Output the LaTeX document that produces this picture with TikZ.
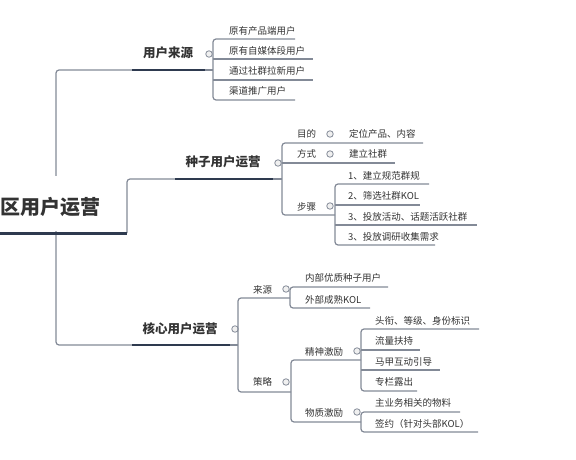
\documentclass[tikz,border=0pt]{standalone}
\usepackage{fontspec}
\setmainfont{Noto Sans CJK SC}
\definecolor{lineg}{HTML}{838A97}
\definecolor{thickc}{HTML}{2E3A4F}
\definecolor{txt}{HTML}{333333}
\begin{document}
\begin{tikzpicture}[x=1pt,y=-1pt,
  conn/.style={draw=lineg, line width=1.2pt, rounded corners=3pt},
  thickline/.style={draw=thickc, line width=2.6pt},
  leaf/.style={anchor=west, inner sep=0pt, text=txt, font=\fontsize{9.5}{11}\selectfont},
  branch/.style={inner sep=0pt, text=txt, font=\fontsize{12.5}{14}\selectfont\bfseries},
  rootn/.style={anchor=west, inner sep=0pt, text=txt, font=\fontsize{20}{22}\selectfont\bfseries},
  circ/.style={circle, draw=lineg, fill=gray!12, line width=0.8pt, minimum size=6.5pt, inner sep=0pt}]
\useasboundingbox (0,0) rectangle (576,460);

% ---------- trunk ----------
\coordinate (t1) at (132,70);
\coordinate (t3) at (132,345);
\draw[conn] (t1) -- (56,70) -- (56,345) -- (t3);
\draw[conn] (127,233) -- (127,179) -- (175,179);

% ---------- root ----------
\fill[white] (0,176) rectangle (126,231);
\node[rootn] (root) at (0,207) {区用户运营};
\draw[draw=thickc, line width=3pt] (0,233) -- (127,233);

% ---------- branch 1 ----------
\node[branch] (b1) at (168,53) {用户来源};
\draw[thickline] (t1) -- (205,70);
\draw[conn] (205,70) -- (213,70);
\node[circ] (c1) at (209,54) {};
\draw[conn] (295,39) -- (213,39) -- (213,100) -- (295,100);
\draw[conn] (213,59) -- (313,59);
\draw[conn] (213,80) -- (313,80);
\node[leaf] (l11) at (229,31) {原有产品端用户};
\node[leaf] (l12) at (229,51) {原有自媒体段用户};
\node[leaf] (l13) at (229,71) {通过社群拉新用户};
\node[leaf] (l14) at (229,91) {渠道推广用户};

% ---------- branch 2 ----------
\node[branch] (b2) at (223,162) {种子用户运营};
\draw[thickline] (175,179) -- (273,179);
\draw[conn] (273,179) -- (282,179);
\node[circ] (c2) at (278,163) {};
\draw[conn] (423,143) -- (282,143) -- (282,215) -- (335,215);
\draw[conn] (282,163) -- (395,163);
\node[leaf] (m1) at (297,134) {目的};
\node[circ] (cm1) at (330,134) {};
\node[leaf] (m1a) at (349,134) {定位产品、内容};
\node[leaf] (m2) at (297,154) {方式};
\node[circ] (cm2) at (330,154) {};
\node[leaf] (m2a) at (349,154) {建立社群};
\node[leaf] (m3) at (297,207) {步骤};
\node[circ] (cm3) at (330,206) {};
\draw[conn] (429,184) -- (335,184) -- (335,245) -- (435,245);
\draw[conn] (335,205) -- (420,205);
\draw[conn] (335,225) -- (477,225);
\node[leaf] (s1) at (348,176) {1、建立规范群规};
\node[leaf] (s2) at (348,196) {2、筛选社群KOL};
\node[leaf] (s3) at (348,217) {3、投放活动、话题活跃社群};
\node[leaf] (s4) at (348,237) {3、投放调研收集需求};

% ---------- branch 3 ----------
\node[branch] (b3) at (180,329) {核心用户运营};
\draw[thickline] (t3) -- (230,345);
\draw[conn] (230,345) -- (238,345);
\node[circ] (c3) at (235,329) {};
\draw[conn] (290,298) -- (238,298) -- (238,392) -- (291,392);
\node[leaf] (k1) at (253,290) {来源};
\node[circ] (ck1) at (286,289) {};
\draw[conn] (388,287) -- (290,287) -- (290,308) -- (370,308);
\node[leaf] (k1a) at (305,278) {内部优质种子用户};
\node[leaf] (k1b) at (305,300) {外部成熟KOL};
\node[leaf] (k2) at (253,382) {策略};
\node[circ] (ck2) at (286,382) {};
\draw[conn] (361,360) -- (291,360) -- (291,422) -- (361,422);
\node[leaf] (j1) at (305,352) {精神激励};
\node[circ] (cj1) at (357,351) {};
\draw[conn] (479,329) -- (361,329) -- (361,391) -- (417,391);
\draw[conn] (361,350) -- (420,350);
\draw[conn] (361,370) -- (440,370);
\node[leaf] (j1a) at (375,321) {头衔、等级、身份标识};
\node[leaf] (j1b) at (375,341) {流量扶持};
\node[leaf] (j1c) at (375,362) {马甲互动引导};
\node[leaf] (j1d) at (375,382) {专栏露出};
\node[leaf] (j2) at (305,413) {物质激励};
\node[circ] (cj2) at (357,412) {};
\draw[conn] (460,412) -- (361,412) -- (361,432) -- (478,432);
\node[leaf] (j2a) at (375,403) {主业务相关的物料};
\node[leaf] (j2b) at (375,424) {签约（针对头部KOL）};
\end{tikzpicture}
\end{document}
